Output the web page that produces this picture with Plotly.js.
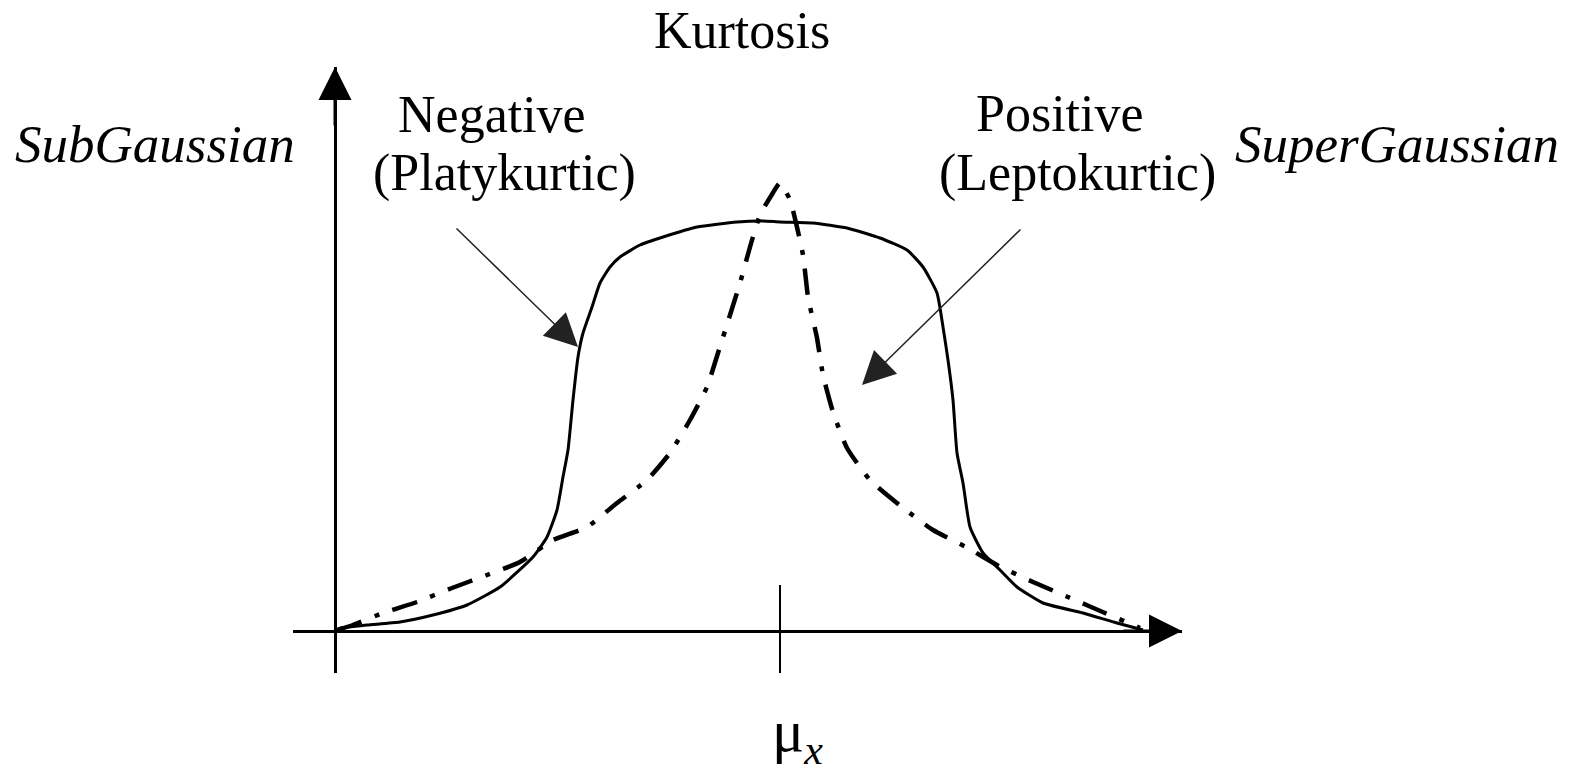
<!DOCTYPE html>
<html>
<head>
<meta charset="utf-8">
<script src="https://cdn.plot.ly/plotly-3.0.1.min.js"></script>
<style>
  html, body { margin: 0; padding: 0; background: #ffffff; }
  #chart { width: 1577px; height: 773px; }
</style>
</head>
<body>
<div id="chart"></div>
<script>
// Platykurtic (negative excess kurtosis, sub-Gaussian) density: flat top, steep shoulders
const platyX = [0.05, 0.32, 0.65, 0.98, 1.32, 1.65, 1.98, 2.12, 2.22, 2.28, 2.33, 2.38, 2.43, 2.48,
                2.57, 2.65, 2.75, 2.85, 3.05, 3.28, 3.62, 4.02, 4.28, 4.45, 4.78, 5.12, 5.45, 5.72,
                5.88, 6.02, 6.08, 6.13, 6.18, 6.22, 6.28, 6.35, 6.48, 6.65, 6.82, 7.08, 7.48, 7.82, 8.08];
const platyY = [0.003, 0.006, 0.009, 0.016, 0.026, 0.044, 0.074, 0.094, 0.121, 0.154, 0.181, 0.231, 0.274, 0.298,
                0.324, 0.348, 0.364, 0.374, 0.386, 0.394, 0.404, 0.409, 0.410, 0.409, 0.408, 0.403, 0.393, 0.381,
                0.364, 0.338, 0.304, 0.271, 0.231, 0.178, 0.148, 0.104, 0.078, 0.061, 0.044, 0.028, 0.018, 0.008, 0.001];

// Leptokurtic (positive excess kurtosis, super-Gaussian) density: sharp peak, heavy tails
const leptoX = [0.02, 0.18, 0.48, 0.82, 1.17, 1.52, 1.85, 2.18, 2.52, 2.82, 3.12, 3.35, 3.55, 3.72,
                3.83, 3.95, 4.05, 4.15, 4.25, 4.36, 4.45, 4.55, 4.68, 4.73, 4.82, 4.88, 4.98, 5.12,
                5.35, 5.67, 5.98, 6.31, 6.62, 6.98, 7.33, 7.70, 8.05];
const leptoY = [0.001, 0.006, 0.018, 0.029, 0.043, 0.056, 0.069, 0.091, 0.104, 0.128, 0.151, 0.178, 0.211, 0.244,
                0.278, 0.316, 0.348, 0.384, 0.416, 0.435, 0.448, 0.431, 0.376, 0.334, 0.293, 0.256, 0.219, 0.183,
                0.151, 0.124, 0.101, 0.084, 0.066, 0.049, 0.034, 0.018, 0.003];

// Mean of both distributions
const meanX = 4.45;

// Axis extents (data units)
const xRange = [-0.42, 8.47];
const yRange = [-0.042, 0.564];

// Text labels
const titleText = 'Kurtosis';
const negLines = ['Negative', '(Platykurtic)'];
const posLines = ['Positive', '(Leptokurtic)'];
const subLabel = 'SubGaussian';
const superLabel = 'SuperGaussian';
const meanLabel = 'μ<sub><i>x</i></sub>';

// Plot area in page pixels
const W = 1577, H = 773;
const M = { l: 293, r: 395, t: 67, b: 100 };
const plotW = W - M.l - M.r, plotH = H - M.t - M.b;
const px = x => (x - M.l) / plotW;
const py = y => (H - M.b - y) / plotH;

const serif = 'Liberation Serif, Times New Roman, serif';

const traces = [
  {
    x: platyX, y: platyY, type: 'scatter', mode: 'lines',
    line: { color: '#000', width: 3, shape: 'spline', smoothing: 0.5 },
    hoverinfo: 'skip', showlegend: false
  },
  {
    x: leptoX, y: leptoY, type: 'scatter', mode: 'lines',
    line: { color: '#000', width: 4.5, dash: '26px,14px,5px,14px', shape: 'spline', smoothing: 0.5 },
    hoverinfo: 'skip', showlegend: false
  }
];

function label(text, xPix, yPix, size, anchor) {
  return {
    text: text, xref: 'paper', yref: 'paper', x: px(xPix), y: py(yPix),
    xanchor: anchor || 'center', yanchor: 'middle', showarrow: false,
    font: { family: serif, size: size, color: '#000' }
  };
}

function arrow(x, y, ax, ay, width, size, color) {
  return {
    text: '', x: x, y: y, ax: ax, ay: ay,
    xref: 'x', yref: 'y', axref: 'x', ayref: 'y',
    showarrow: true, arrowhead: 2, arrowwidth: width, arrowsize: size,
    arrowcolor: color
  };
}

const annotations = [
  label(titleText, 742, 31, 52),
  label(negLines[0], 492, 115, 52),
  label(negLines[1], 504, 173, 52),
  label(posLines[0], 1060, 113, 52),
  label(posLines[1], 1077, 173, 52),
  label('<i>' + subLabel + '</i>', 155, 144, 53),
  label('<i>' + superLabel + '</i>', 1397, 144, 53),
  label(meanLabel, 770, 735, 60, 'left'),
  // axis arrowheads
  arrow(0, yRange[1], 0, yRange[1] - 0.06, 3, 2.2, '#000'),
  arrow(xRange[1], 0, xRange[1] - 0.6, 0, 3, 2.2, '#000'),
  // pointers from the labels to the curves
  arrow(2.43, 0.284, 1.20, 0.404, 1.5, 4.4, '#222'),
  arrow(5.27, 0.246, 6.87, 0.403, 1.5, 4.4, '#222')
];

const layout = {
  width: W, height: H,
  margin: M,
  paper_bgcolor: '#fff', plot_bgcolor: '#fff',
  showlegend: false,
  xaxis: {
    range: xRange, showgrid: false, showticklabels: false, ticks: '',
    showline: false, zeroline: true, zerolinecolor: '#000', zerolinewidth: 3,
    fixedrange: true
  },
  yaxis: {
    range: yRange, showgrid: false, showticklabels: false, ticks: '',
    showline: false, zeroline: true, zerolinecolor: '#000', zerolinewidth: 3,
    fixedrange: true
  },
  shapes: [
    // tick mark at the mean
    { type: 'line', xref: 'x', yref: 'y', x0: meanX, x1: meanX, y0: -0.049, y1: 0.046,
      line: { color: '#000', width: 2 } }
  ],
  annotations: annotations
};

Plotly.newPlot('chart', traces, layout, { staticPlot: true, displayModeBar: false });
</script>
</body>
</html>
